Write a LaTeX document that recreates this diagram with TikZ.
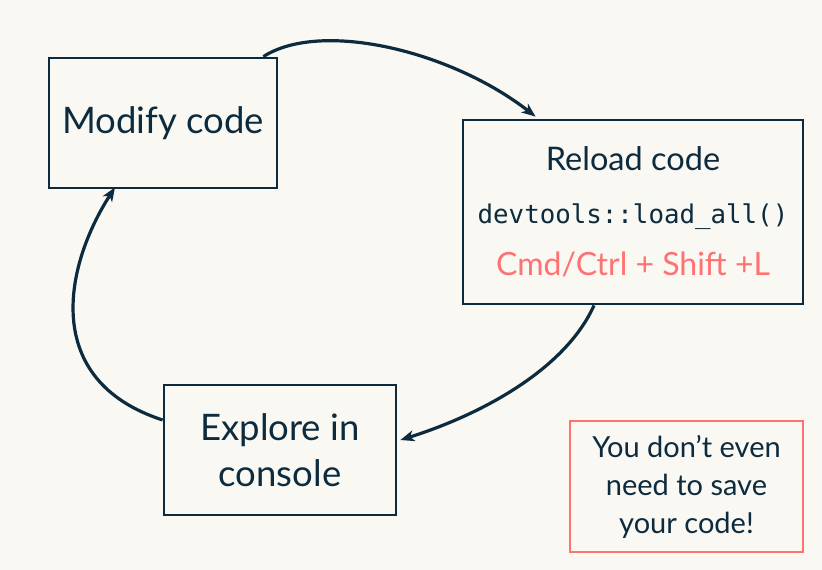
\documentclass[tikz,border=0pt]{standalone}
\usepackage{fontspec}
\setmainfont{Lato}
\setmonofont{DejaVu Sans Mono}
\usetikzlibrary{arrows.meta}
\definecolor{navy}{HTML}{0D2B3E}
\definecolor{pink}{HTML}{FF7272}
\definecolor{bg}{HTML}{F9F8F2}
\tikzset{
  box/.style={draw=navy, line width=2.8pt, fill=bg, text=navy, align=center, inner sep=0pt},
  notebox/.style={draw=pink, line width=2.8pt, fill=bg, text=navy, align=center, inner sep=0pt},
  flow/.style={draw=navy, line width=3.2pt, -{Stealth[length=14pt,width=11pt,inset=4pt]}},
}
\begin{document}
\begin{tikzpicture}[x=1pt,y=-1pt]
\fill[bg] (0,0) rectangle (822,570);
\useasboundingbox (0,0) rectangle (822,570);
\node[box, minimum width=228pt, minimum height=130pt, font=\fontsize{36.5}{42}\selectfont] (m) at (163,123) {Modify code};
\node[box, minimum width=340pt, minimum height=184pt, font=\fontsize{32.5}{52.5}\selectfont] (r) at (633,212)
  {Reload code\\
   {\fontsize{25.8}{52.5}\ttfamily devtools::load\_all()}\\
   {\fontsize{32}{52.5}\selectfont\color{pink}Cmd/Ctrl + Shift +L}};
\node[box, minimum width=232pt, minimum height=130pt, font=\fontsize{36.5}{45.5}\selectfont] (e) at (280,450) {Explore in\\console};
\node[notebox, minimum width=233pt, minimum height=131pt, font=\fontsize{29}{38}\selectfont] (n) at (686.5,486.5) {You don’t even\\need to save\\your code!};
\coordinate (a1s) at ([xshift=-15pt]m.north east);
\coordinate (a1e) at ([xshift=74pt,yshift=2pt]r.north west);
\coordinate (a2s) at ([xshift=-39pt]r.south);
\coordinate (a2e) at ([xshift=3pt,yshift=10pt]e.east);
\coordinate (a3s) at ([yshift=30pt]e.west);
\coordinate (a3e) at ([xshift=-48pt,yshift=2pt]m.south);
\draw[flow] (a1s) .. controls (320,20) and (450,50) .. (a1e);
\draw[flow] (a2s) .. controls (565,370) and (480,415) .. (a2e);
\draw[flow] (a3s) .. controls (40,380) and (65,265) .. (a3e);
\end{tikzpicture}
\end{document}
